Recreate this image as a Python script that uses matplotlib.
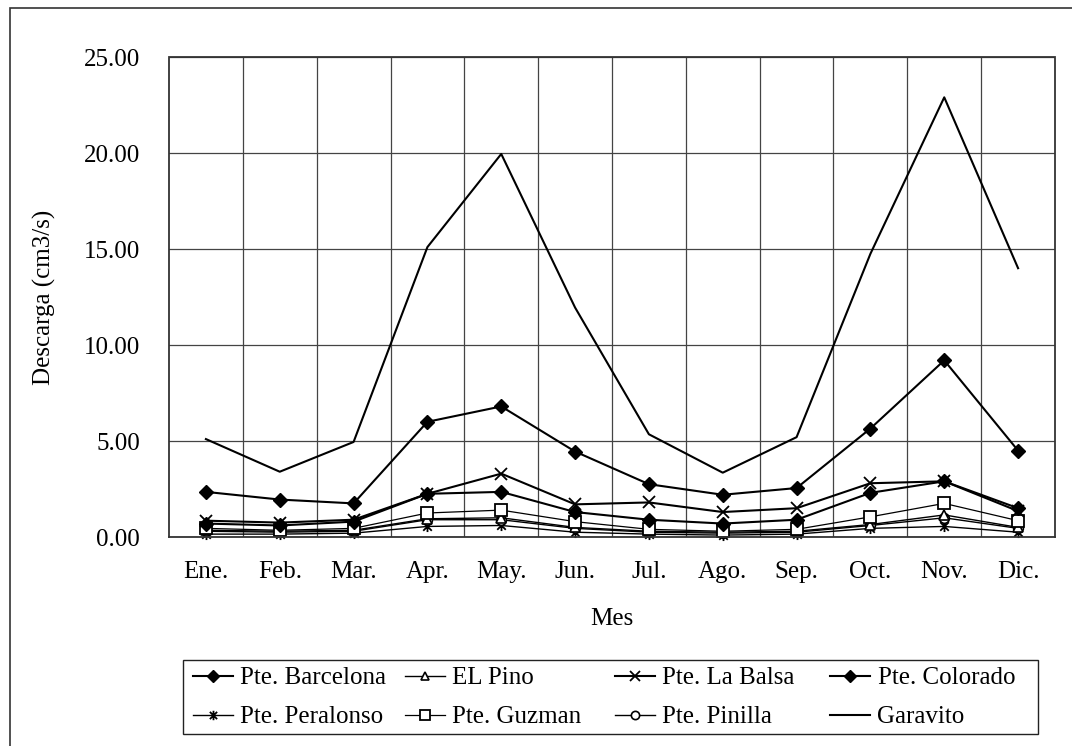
import numpy as np
import matplotlib.pyplot as plt
from matplotlib.path import Path
from matplotlib.patches import Rectangle

plt.rcParams['font.family'] = ['Liberation Serif', 'DejaVu Serif']

meses = ['Ene.', 'Feb.', 'Mar.', 'Apr.', 'May.', 'Jun.', 'Jul.', 'Ago.',
         'Sep.', 'Oct.', 'Nov.', 'Dic.']

barcelona = [2.35, 1.95, 1.75, 6.0, 6.8, 4.45, 2.75, 2.2, 2.55, 5.65, 9.2, 4.5]
el_pino = [0.35, 0.3, 0.35, 0.95, 1.0, 0.5, 0.3, 0.25, 0.3, 0.65, 1.15, 0.5]
la_balsa = [0.85, 0.75, 0.9, 2.25, 3.3, 1.7, 1.8, 1.3, 1.5, 2.8, 2.9, 1.35]
colorado = [0.7, 0.6, 0.8, 2.25, 2.35, 1.3, 0.9, 0.7, 0.9, 2.3, 2.9, 1.5]
peralonso = [0.15, 0.15, 0.2, 0.55, 0.6, 0.25, 0.15, 0.1, 0.15, 0.45, 0.55, 0.25]
guzman = [0.45, 0.35, 0.45, 1.25, 1.4, 0.8, 0.4, 0.3, 0.4, 1.05, 1.75, 0.85]
pinilla = [0.3, 0.25, 0.3, 0.9, 0.9, 0.45, 0.25, 0.2, 0.25, 0.6, 1.0, 0.45]
garavito = [5.1, 3.4, 4.95, 15.1, 19.95, 11.95, 5.35, 3.35, 5.2, 14.75, 22.9, 14.0]

# asterisco tipo Excel: X con una barra vertical
ast = Path([(-1, -1), (1, 1), (-1, 1), (1, -1), (0, -1.3), (0, 1.3)],
           [Path.MOVETO, Path.LINETO, Path.MOVETO, Path.LINETO, Path.MOVETO, Path.LINETO])

W, H = 1072, 746
fig = plt.figure(figsize=(W/100, H/100), dpi=100)
ax = fig.add_axes([169/W, 1-537/H, (1055-169)/W, (537-57)/H])

x = np.arange(len(meses))
k = 'black'
series = [
    ('Garavito', garavito, dict(marker=None, lw=1.5)),
    ('Pte. Peralonso', peralonso, dict(marker=ast, ms=8, lw=1.0, mew=1.3)),
    ('Pte. Pinilla', pinilla, dict(marker='o', ms=7, lw=1.0, mfc='white', mew=1.2)),
    ('EL Pino', el_pino, dict(marker='^', ms=7, lw=1.0, mfc='white', mew=1.2)),
    ('Pte. Guzman', guzman, dict(marker='s', ms=8, lw=0.9, mfc='white', mew=1.3)),
    ('Pte. Colorado', colorado, dict(marker='D', ms=7, lw=1.5)),
    ('Pte. La Balsa', la_balsa, dict(marker='x', ms=9, lw=1.5, mew=1.3)),
    ('Pte. Barcelona', barcelona, dict(marker='D', ms=7, lw=1.5)),
]
lines = {}
for nombre, vals, kw in series:
    lines[nombre], = ax.plot(x, vals, color=k, mfc=kw.pop('mfc', k), label=nombre,
                             clip_on=False, **kw)

ax.set_xlim(-0.5, len(meses) - 0.5)
ax.set_ylim(0, 25)
ax.set_yticks(np.arange(0, 26, 5))
ax.set_yticklabels(['%.2f' % v for v in np.arange(0, 26, 5)])
ax.set_xticks(x)
ax.set_xticklabels(meses)
ax.set_xticks(np.arange(0.5, len(meses) - 1, 1), minor=True)
ax.tick_params(which='both', length=0, labelsize=18)
ax.tick_params(axis='x', pad=17)
ax.tick_params(axis='y', pad=21)
ax.grid(True, axis='y', which='major', color='#444444', lw=0.9)
ax.grid(True, axis='x', which='minor', color='#444444', lw=0.9)
ax.set_axisbelow(True)
for s in ax.spines.values():
    s.set_color('#333333')
    s.set_linestyle((0, (1, 1)))
    s.set_linewidth(1.3)

ax.set_xlabel('Mes', fontsize=18, labelpad=18)
ax.set_ylabel('Descarga (cm3/s)', fontsize=18, labelpad=20)

# leyenda en 4 columnas de igual ancho, 2 filas
columnas = [('Pte. Barcelona', 'Pte. Peralonso'), ('EL Pino', 'Pte. Guzman'),
            ('Pte. La Balsa', 'Pte. Pinilla'), ('Pte. Colorado', 'Garavito')]
col_x = [193, 405, 615, 830]
for cx, nombres in zip(col_x, columnas):
    fig.legend([lines[n] for n in nombres], nombres, loc='upper left',
               bbox_to_anchor=(cx/W, 1-667/H), frameon=False, fontsize=18,
               handlelength=1.6, handletextpad=0.3, labelspacing=0.65,
               borderpad=0, borderaxespad=0, markerscale=0.85)
fig.patches.append(Rectangle((183/W, 1-734/H), (1038-183)/W, (734-660)/H,
                             transform=fig.transFigure, fill=False,
                             ec='#222222', lw=1.0))

# marco exterior de la figura
fig.patches.append(Rectangle((10/W, -0.1), 1.2, 1.1 - 8/H, transform=fig.transFigure,
                             fill=False, ec='#333333', lw=1.2))

fig.savefig('out.png', dpi=100)
